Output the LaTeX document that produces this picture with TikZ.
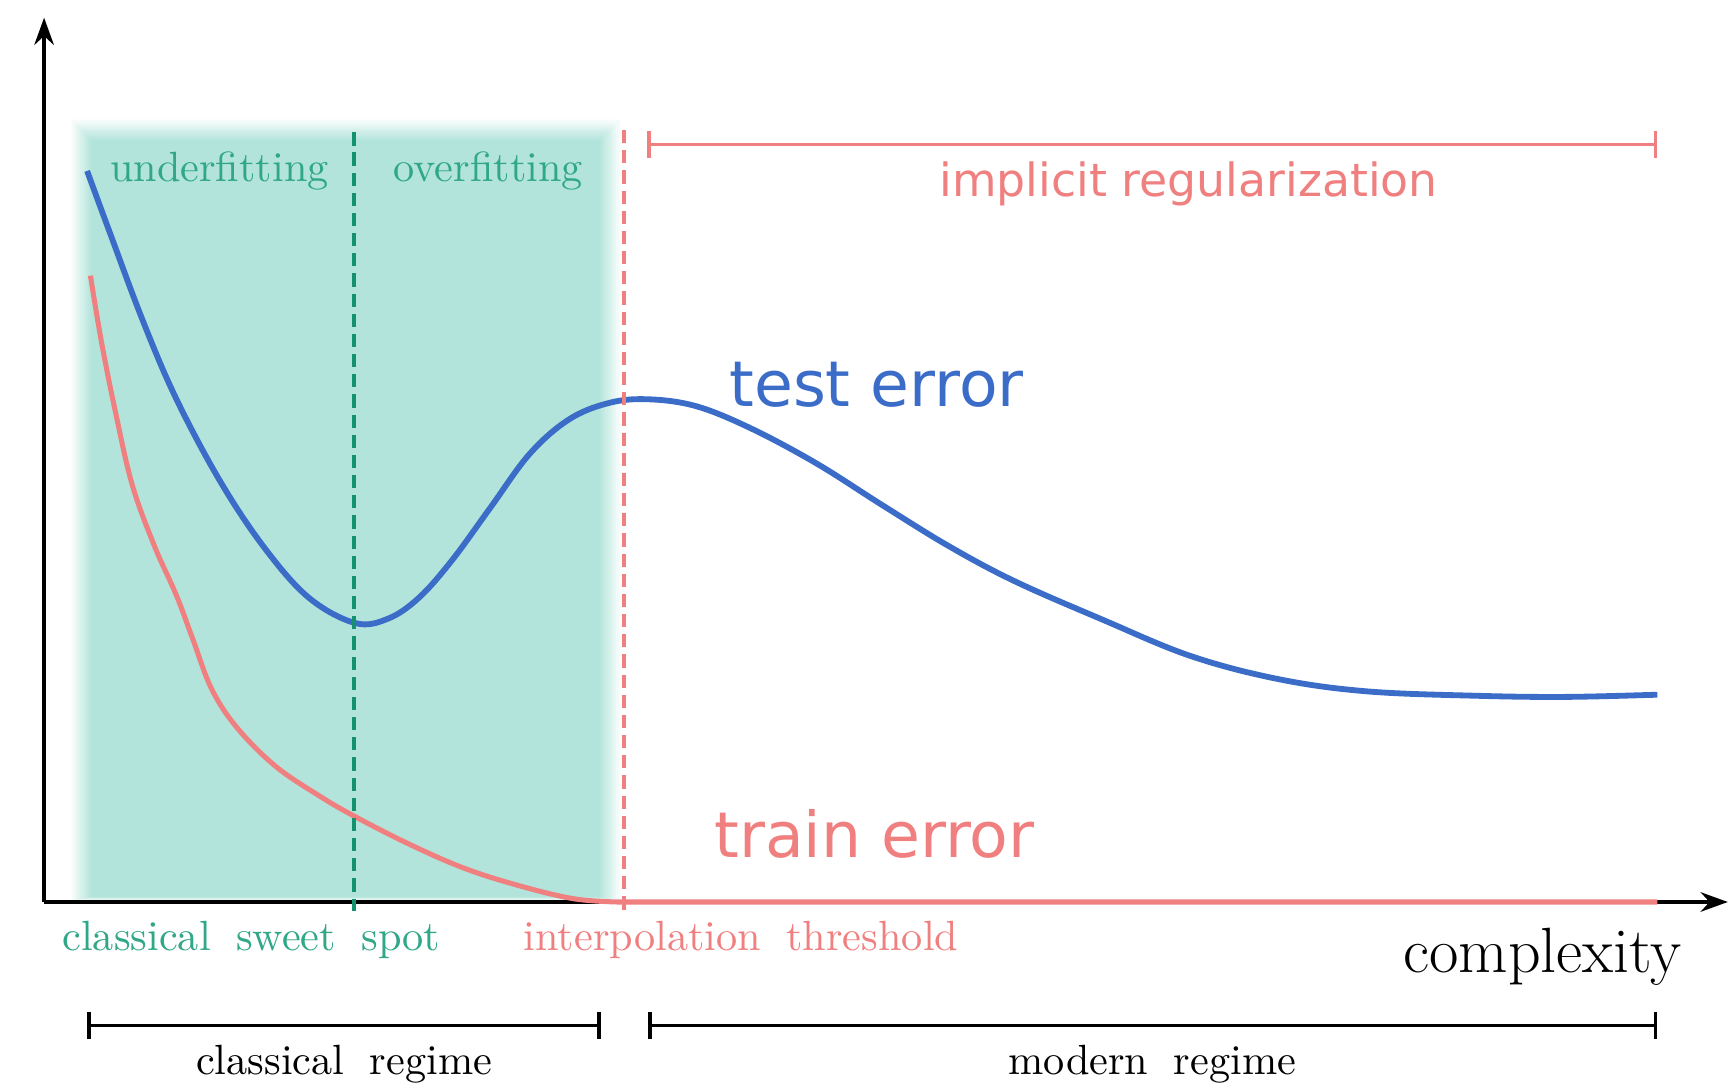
\documentclass[tikz,border=0pt]{standalone}
\usepackage{fontspec}
\newfontfamily\dejavu{DejaVu Sans}
\usetikzlibrary{arrows.meta}
\definecolor{shadecol}{RGB}{178,228,219}
\definecolor{gtxt}{RGB}{48,168,136}
\definecolor{gdash}{RGB}{20,145,110}
\definecolor{rcol}{RGB}{240,128,128}
\definecolor{bcol}{RGB}{58,108,200}
\newcommand\wsp{\hspace{0.6em}}
\begin{document}
\begin{tikzpicture}[x=0.01cm,y=-0.01cm,
  lbl/.style={inner sep=0pt,anchor=base,font=\fontsize{10.9}{13}\selectfont},
  glbl/.style={lbl,text=gtxt},
  rlbl/.style={lbl,text=rcol},
  big/.style={inner sep=0pt,anchor=base,font=\dejavu\fontsize{16.3}{20}\selectfont},
  axisline/.style={line width=1.1pt,-{Stealth[length=7pt,width=5pt]}},
  bracketline/.style={line width=0.9pt,{Bar[width=7pt]}-{Bar[width=7pt]}},
  curve/.style={line width=1.5pt},
  vdash/.style={line width=0.85pt,dash pattern=on 3.4pt off 1.8pt}]
\useasboundingbox (0,0) rectangle (1568,987);
% shaded classical region with soft edges (linear fade)
\foreach \i in {0,...,19}{
  \pgfmathsetmacro{\op}{1/(20-\i)}
  \fill[shadecol,opacity=\op] ({64+\i},{108+\i}) rectangle ({563-\i},{817-0.2*\i});
}
% coordinates
\coordinate (O) at (40,818);
\coordinate (ytop) at (40,16);
\coordinate (xend) at (1567,818);
\coordinate (gtop) at (321,120);
\coordinate (gbot) at (321,826);
\coordinate (rtop) at (566,118);
\coordinate (rbot) at (566,826);
\coordinate (irL) at (587,131);
\coordinate (irR) at (1503,131);
\coordinate (crL) at (79,930);
\coordinate (crR) at (545,930);
\coordinate (mrL) at (588,930);
\coordinate (mrR) at (1503,930);
% axes
\draw[axisline] (O) -- (ytop);
\draw[axisline] (O) -- (xend);
% test error
\draw[curve,bcol] plot[smooth,tension=0.6] coordinates {(79,155) (100,212) (130,292) (160,362) (200,437) (240,497) (280,542) (322,565) (352,561) (380,542) (410,508) (445,460) (480,412) (515,381) (550,366) (585,362) (630,368) (680,388) (740,420) (800,458) (860,495) (920,527) (1000,562) (1080,595) (1160,616) (1240,627) (1340,631) (1420,632) (1503,630)};
% train error
\draw[curve,rcol,line width=1.3pt] plot[smooth,tension=0.6] coordinates {(82,250) (92,310) (105,375) (120,440) (140,495) (160,540) (175,580) (192,625) (215,660) (250,695) (290,722) (321,740) (370,765) (420,787) (470,803) (520,815) (560,818)} -- (1503,818);
% dashed lines
\draw[vdash,gdash] (gtop) -- (gbot);
\draw[vdash,rcol] (rtop) -- (rbot);
% brackets
\draw[bracketline,rcol] (irL) -- (irR);
\draw[bracketline] (crL) -- (crR);
\draw[bracketline] (mrL) -- (mrR);
% labels
\node[glbl] (under) at (199,165) {underfitting};
\node[glbl] (over) at (443,165) {overfitting};
\node[inner sep=0pt,anchor=base,text=rcol,font=\dejavu\fontsize{11.8}{14}\selectfont] (impl) at (1078,178) {implicit regularization};
\node[big,text=bcol] (test) at (795,369) {test error};
\node[big,text=rcol] (train) at (793,778) {train error};
\node[glbl] (sweet) at (228,862) {classical\wsp sweet\wsp spot};
\node[rlbl] (interp) at (672,862) {interpolation\wsp threshold};
\node[inner sep=0pt,anchor=base,font=\fontsize{16.5}{19}\selectfont] (cplx) at (1399,882) {complexity};
\node[lbl] (creg) at (312,974) {classical\wsp regime};
\node[lbl] (mreg) at (1045,974) {modern\wsp regime};
\end{tikzpicture}
\end{document}
